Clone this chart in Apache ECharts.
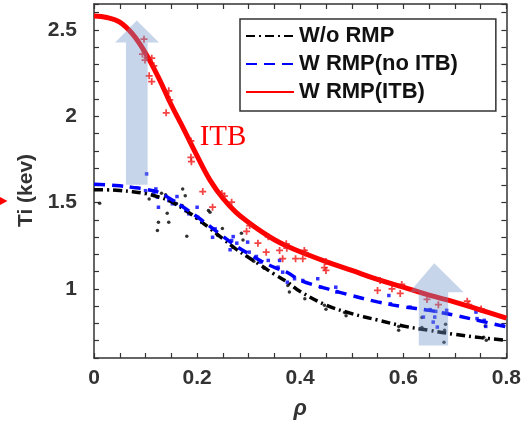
<!DOCTYPE html>
<html><head><meta charset="utf-8">
<script src="https://cdn.jsdelivr.net/npm/echarts@6/dist/echarts.min.js"></script>
<style>html,body{margin:0;padding:0;background:#fff}#c{width:524px;height:429px}</style>
</head><body><div id="c"></div>
<script>
// ---- data ----
const rhoGrid = [0,0.025,0.05,0.075,0.1,0.125,0.15,0.175,0.2,0.225,0.25,0.275,0.3,0.325,0.35,0.375,0.4,0.45,0.5,0.55,0.6,0.65,0.7,0.75,0.8];
const tiNoRmp  = [1.575,1.574,1.570,1.563,1.552,1.533,1.505,1.460,1.408,1.350,1.290,1.232,1.182,1.134,1.085,1.040,0.985,0.907,0.857,0.820,0.785,0.760,0.737,0.718,0.702];
const tiRmpNoItb = [1.606,1.603,1.597,1.588,1.577,1.560,1.518,1.470,1.418,1.362,1.305,1.250,1.203,1.160,1.125,1.095,1.050,1.003,0.962,0.925,0.897,0.876,0.847,0.814,0.780];
const tiRmpItb = [2.580,2.572,2.545,2.475,2.365,2.225,2.065,1.920,1.770,1.630,1.525,1.445,1.385,1.332,1.285,1.247,1.215,1.158,1.107,1.055,1.010,0.964,0.924,0.878,0.831];
const seriesNames = ['W/o RMP','W RMP(no ITB)','W RMP(ITB)'];
const ptsItb = [[0.097,2.446],[0.094,2.360],[0.103,2.340],[0.112,2.336],[0.099,2.325],[0.116,2.292],[0.107,2.234],[0.112,2.201],[0.145,2.147],[0.147,2.095],[0.140,2.020],[0.188,1.857],[0.188,1.762],[0.189,1.737],[0.211,1.564],[0.230,1.473],[0.248,1.552],[0.253,1.538],[0.267,1.502],[0.302,1.367],[0.296,1.334],[0.338,1.302],[0.318,1.265],[0.373,1.261],[0.334,1.213],[0.360,1.223],[0.374,1.236],[0.366,1.175],[0.391,1.175],[0.408,1.223],[0.410,1.208],[0.405,1.175],[0.450,1.159],[0.447,1.124],[0.450,1.107],[0.555,1.049],[0.550,0.991],[0.578,1.001],[0.597,1.026],[0.594,0.974],[0.646,0.939],[0.668,0.909],[0.724,0.929],[0.727,0.909],[0.751,0.884]];
const ptsNoItb = [[0.102,1.666],[0.100,1.569],[0.120,1.579],[0.116,1.550],[0.123,1.531],[0.125,1.473],[0.145,1.512],[0.155,1.508],[0.161,1.535],[0.158,1.493],[0.152,1.493],[0.178,1.454],[0.184,1.435],[0.200,1.473],[0.201,1.415],[0.209,1.386],[0.230,1.299],[0.235,1.348],[0.264,1.227],[0.267,1.280],[0.277,1.265],[0.270,1.303],[0.298,1.271],[0.301,1.213],[0.315,1.188],[0.322,1.155],[0.338,1.165],[0.360,1.165],[0.357,1.126],[0.366,1.097],[0.375,1.039],[0.389,1.059],[0.405,1.049],[0.434,1.059],[0.440,1.010],[0.469,1.010],[0.471,0.982],[0.572,0.962],[0.575,0.914],[0.613,0.895],[0.639,0.837],[0.652,0.880],[0.663,0.870],[0.661,0.837],[0.658,0.808],[0.666,0.779],[0.684,0.876],[0.741,0.866],[0.743,0.828],[0.757,0.818],[0.760,0.783],[0.793,0.789]];
const ptsNoRmp = [[0.011,1.496],[0.107,1.521],[0.131,1.554],[0.139,1.546],[0.172,1.579],[0.177,1.540],[0.171,1.483],[0.142,1.438],[0.125,1.386],[0.145,1.386],[0.123,1.338],[0.180,1.305],[0.222,1.454],[0.225,1.444],[0.249,1.350],[0.286,1.323],[0.289,1.284],[0.160,1.495],[0.200,1.410],[0.240,1.310],[0.270,1.240],[0.310,1.160],[0.330,1.120],[0.376,1.020],[0.379,0.982],[0.409,0.943],[0.447,0.905],[0.450,0.882],[0.486,0.864],[0.489,0.844],[0.591,0.783],[0.591,0.760],[0.636,0.835],[0.636,0.777],[0.682,0.795],[0.680,0.760],[0.679,0.691],[0.759,0.786],[0.756,0.720],[0.761,0.703]];
// arrows: [shaftLeft, shaftRight, bottom, headBase, headLeft, headRight, tipX, tipY]
const arrowCore = [0.062,0.104,1.604,2.427,0.041,0.126,0.083,2.555];
const arrowEdge = [0.630,0.687,0.673,0.981,0.612,0.717,0.660,1.149];
const itbLabel = ['ITB', 0.205, 1.879];
const xTickLabels = [0,0.2,0.4,0.6,0.8];
const yTickLabels = [1,1.5,2,2.5];

// ---- chart ----
const chart = echarts.init(document.getElementById('c'), null, {renderer:'canvas'});
const FONT = '"Liberation Sans", Arial, Helvetica, sans-serif';
const AX = '#333';
const toPairs = ys => rhoGrid.map((x,i)=>[x, ys[i]]);
const isIn = (v, list) => list.some(t => Math.abs(t - v) < 1e-6);
const round = v => Math.round(v*1000)/1000;
const baseAxis = {
  axisLine:{show:true, onZero:false, lineStyle:{color:AX, width:1.5}},
  axisTick:{show:true, inside:true, length:5, lineStyle:{color:AX, width:1.2}},
  splitLine:{show:false}
};
const plus = 'path://M3,0h2v3h3v2h-3v3h-2v-3h-3v-2h3z';
function arrowItem(params, api){
  const v = i => api.value(i);
  const c = (x,y) => api.coord([x,y]);
  const pts = [c(v(0),v(2)), c(v(1),v(2)), c(v(1),v(3)), c(v(5),v(3)), c(v(6),v(7)), c(v(4),v(3)), c(v(0),v(3))];
  return {type:'polygon', shape:{points:pts}, style:{fill:'rgba(112,150,200,0.4)'}};
}
chart.setOption({
  animation:false,
  backgroundColor:'#fff',
  grid:{left:94, right:13, top:4, bottom:71, containLabel:false},
  xAxis:[
    Object.assign({}, baseAxis, {type:'value', position:'bottom', min:0, max:0.8, interval:0.05,
      axisLabel:{show:true, margin:10, color:AX, fontFamily:FONT, fontWeight:'bold', fontSize:21,
        showMinLabel:true, showMaxLabel:true,
        formatter: v => isIn(round(v), xTickLabels) ? String(round(v)) : ''},
      name:'ρ', nameLocation:'middle', nameGap:40,
      nameTextStyle:{fontFamily:FONT, fontWeight:'bold', fontStyle:'italic', fontSize:22, color:AX}}),
    Object.assign({}, baseAxis, {type:'value', position:'top', min:0, max:0.8, interval:0.05, axisLabel:{show:false}})
  ],
  yAxis:[
    Object.assign({}, baseAxis, {type:'value', position:'left', min:0.6, max:2.65, interval:0.1,
      axisLabel:{show:true, margin:17, color:AX, fontFamily:FONT, fontWeight:'bold', fontSize:21,
        formatter: v => isIn(round(v), yTickLabels) ? String(round(v)) : ''},
      name:'Ti (kev)', nameLocation:'middle', nameGap:53, nameRotate:90,
      nameTextStyle:{fontFamily:FONT, fontWeight:'bold', fontSize:21, color:AX, padding:[0,19,0,0]}}),
    Object.assign({}, baseAxis, {type:'value', position:'right', min:0.6, max:2.65, interval:0.1, axisLabel:{show:false}})
  ],
  legend:{
    orient:'vertical', left:240, top:19, data:seriesNames,
    itemWidth:48, itemHeight:14, itemGap:6,
    padding:[6,38,8,5],
    backgroundColor:'#fff', borderColor:'#333', borderWidth:1.5, borderRadius:0,
    itemStyle:{opacity:0},
    textStyle:{fontFamily:FONT, fontWeight:'bold', fontSize:22, color:'#111'}
  },
  series:[
    {name:'pNoRmp', type:'scatter', data:ptsNoRmp, symbol:'circle', symbolSize:3.5, itemStyle:{color:'#000'}, z:3},
    {name:'pNoItb', type:'scatter', data:ptsNoItb, symbol:'rect', symbolSize:3.5, itemStyle:{color:'#0000ff'}, z:3},
    {name:seriesNames[0], type:'line', data:toPairs(tiNoRmp), smooth:0.4, symbol:'none', showSymbol:false,
      lineStyle:{color:'#000', width:3.5, type:[9,4,2,4]}, itemStyle:{color:'#000'}, z:4},
    {name:seriesNames[1], type:'line', data:toPairs(tiRmpNoItb), smooth:0.4, symbol:'none', showSymbol:false,
      lineStyle:{color:'#0000ff', width:3.5, type:[11,7]}, itemStyle:{color:'#0000ff'}, z:4},
    {name:seriesNames[2], type:'line', data:toPairs(tiRmpItb), smooth:0.4, symbol:'none', showSymbol:false,
      lineStyle:{color:'#ff0000', width:5}, itemStyle:{color:'#ff0000'}, z:4},
    {name:'pItb', type:'scatter', data:ptsItb, symbol:plus, symbolSize:7, itemStyle:{color:'#f01414'}, z:5},
    {name:'arrows', type:'custom', data:[arrowCore, arrowEdge], renderItem:arrowItem, z:6, silent:true},
    {name:'itb', type:'custom', data:[[itbLabel[1], itbLabel[2]]], z:7, silent:true,
      renderItem:(p, api) => {
        const pt = api.coord([api.value(0), api.value(1)]);
        return {type:'text', x:pt[0], y:pt[1], style:{text:itbLabel[0], fill:'#ff0000',
          font:'29px "Liberation Serif", "Times New Roman", serif', verticalAlign:'middle', align:'left'}};
      }}
  ],
  graphic:[{type:'polygon', shape:{points:[[-4,195],[7.5,201],[-4,207]]}, style:{fill:'#ff0000'}}]
});
</script></body></html>
